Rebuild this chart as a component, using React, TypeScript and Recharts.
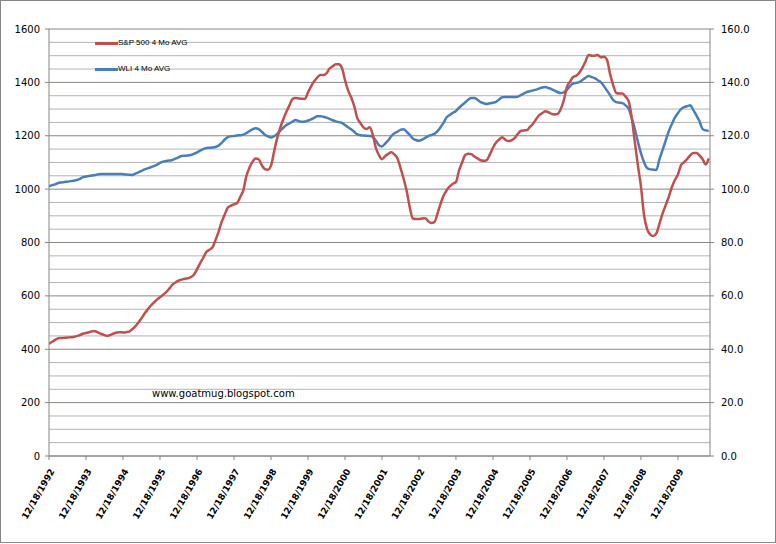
import { CartesianGrid, Line, LineChart, XAxis, YAxis } from "recharts";

// monthly points starting 12/1992
const sp500 = [
  420, 428, 435, 441, 442, 443, 444, 445, 446, 449, 453, 458,
  461, 464, 467, 467, 462, 457, 453, 450, 454, 459, 463, 464,
  463, 464, 466, 475, 486, 500, 516, 534, 549, 563, 575, 586,
  595, 604, 614, 627, 641, 650, 657, 661, 664, 666, 670, 679,
  699, 722, 742, 764, 773, 781, 809, 840, 877, 905, 931, 938,
  943, 948, 970, 994, 1048, 1080, 1102, 1115, 1112, 1090, 1075, 1073,
  1088, 1140, 1191, 1230, 1262, 1290, 1314, 1338, 1341, 1340, 1339, 1338,
  1362, 1385, 1404, 1418, 1428, 1428, 1434, 1452, 1460, 1468, 1468, 1455,
  1409, 1370, 1344, 1311, 1266, 1248, 1231, 1225, 1232, 1205, 1155, 1128,
  1112, 1123, 1132, 1138, 1130, 1116, 1080, 1040, 994, 933, 890, 888,
  888, 890, 891, 880, 873, 876, 908, 945, 976, 996, 1010, 1020,
  1027, 1070, 1100, 1128, 1133, 1131, 1122, 1115, 1108, 1106, 1109, 1130,
  1155, 1175, 1186, 1194, 1185, 1180, 1183, 1191, 1206, 1218, 1220, 1221,
  1233, 1245, 1262, 1277, 1285, 1292, 1288, 1282, 1280, 1282, 1300, 1334,
  1383, 1403, 1420, 1425, 1436, 1454, 1478, 1503, 1500, 1500, 1503, 1494,
  1496, 1484, 1431, 1390, 1360, 1358, 1358, 1347, 1330, 1270, 1178, 1090,
  1010, 903, 850, 830, 824, 834, 870, 908, 939, 970, 1006, 1034,
  1055, 1090, 1101, 1113, 1127, 1135, 1135, 1126, 1112, 1092, 1115,
];

const wli = [
  101.0, 101.5, 101.8, 102.3, 102.5, 102.7, 102.8, 103.0, 103.1, 103.4, 103.8, 104.5,
  104.7, 104.9, 105.1, 105.3, 105.6, 105.7, 105.7, 105.7, 105.7, 105.7, 105.7, 105.7,
  105.6, 105.5, 105.4, 105.3, 105.8, 106.3, 106.8, 107.4, 107.8, 108.2, 108.6, 109.1,
  109.8, 110.3, 110.5, 110.7, 110.9, 111.4, 111.9, 112.4, 112.5, 112.6, 112.8, 113.2,
  113.8, 114.4, 115.0, 115.4, 115.5, 115.6, 115.8, 116.3, 117.3, 118.6, 119.5, 119.8,
  119.9, 120.1, 120.2, 120.4, 121.0, 121.7, 122.4, 122.8, 122.5, 121.5, 120.4, 119.8,
  119.3, 119.8, 120.7, 121.8, 123.0, 124.0, 124.6, 125.3, 125.9, 125.5, 125.2, 125.3,
  125.7, 126.1, 126.7, 127.3, 127.3, 127.1, 126.8, 126.3, 125.8, 125.4, 125.1, 124.8,
  124.0, 123.2, 122.4, 121.5, 120.5, 120.2, 120.1, 120.0, 119.9, 119.6, 118.2, 116.5,
  116.0, 117.0, 118.2, 119.8, 120.9, 121.5, 122.2, 122.4, 121.5, 120.3, 119.0, 118.4,
  118.1, 118.5, 119.2, 119.9, 120.3, 120.7, 121.7, 123.2, 124.9, 126.9, 127.8, 128.6,
  129.3, 130.5, 131.5, 132.5, 133.5, 134.1, 134.1, 133.5, 132.6, 132.2, 131.9, 132.2,
  132.4, 132.7, 133.6, 134.4, 134.5, 134.5, 134.5, 134.5, 134.6, 135.2, 135.8, 136.4,
  136.7, 137.0, 137.3, 137.7, 138.1, 138.3, 137.9, 137.5, 136.9, 136.3, 136.0, 136.3,
  137.2, 138.6, 139.5, 139.8, 140.1, 140.9, 141.7, 142.4, 142.0, 141.6, 140.8, 140.1,
  138.6, 136.9, 135.2, 133.4, 132.6, 132.4, 132.2, 131.4, 130.2, 126.6, 122.6, 117.8,
  113.5, 110.1, 107.9, 107.4, 107.3, 107.2, 111.2, 114.6, 118.1, 121.6, 124.3, 126.8,
  128.5, 130.0, 130.7, 131.1, 131.4, 129.6, 127.6, 125.4, 122.5, 122.0, 121.8,
];

const yearLabels = [
  "12/18/1992", "12/18/1993", "12/18/1994", "12/18/1995", "12/18/1996",
  "12/18/1997", "12/18/1998", "12/18/1999", "12/18/2000", "12/18/2001",
  "12/18/2002", "12/18/2003", "12/18/2004", "12/18/2005", "12/18/2006",
  "12/18/2007", "12/18/2008", "12/18/2009",
];

const leftTicks = [0, 200, 400, 600, 800, 1000, 1200, 1400, 1600];
const rightTicks = [0, 20, 40, 60, 80, 100, 120, 140, 160];
const minorLines = [
  50, 100, 150, 250, 300, 350, 450, 500, 550, 650, 700, 750, 850, 900, 950,
  1050, 1100, 1150, 1250, 1300, 1350, 1450, 1500, 1550,
];

const data = sp500.map((v, i) => ({ m: i, sp: v, wli: wli[i] }));
const monthTicks = yearLabels.map((_, i) => i * 12);

const RED = "#c0504d";
const BLUE = "#4a7ebb";
const AXIS = "#868686";
const FONT = "DejaVu Sans";

const DateTick = (props: any) => {
  const { x, y, payload } = props;
  const label = yearLabels[Math.round(payload.value / 12)] ?? "";
  const tx = x + 6;
  const ty = y + 11;
  return (
    <text
      x={tx}
      y={ty}
      transform={`rotate(-60, ${tx}, ${ty})`}
      textAnchor="end"
      fontSize={9}
      fontWeight="bold"
      fontFamily={FONT}
      fill="#000"
    >
      {label}
    </text>
  );
};

export default function App() {
  return (
    <div
      style={{
        position: "absolute",
        left: 0,
        top: 0,
        width: 776,
        height: 544,
        background: "#fff",
      }}
    >
      <div
        style={{
          position: "absolute",
          left: 0,
          top: 0,
          width: 776,
          height: 543,
          boxSizing: "border-box",
          border: `1px solid ${AXIS}`,
        }}
      />
      <LineChart
        width={776}
        height={544}
        data={data}
        margin={{ top: 29, right: 16, bottom: 8, left: 0 }}
        style={{ position: "absolute", left: 0, top: 0 }}
      >
        <CartesianGrid
          yAxisId="left"
          vertical={false}
          horizontalValues={minorLines}
          stroke="#b4b4b4"
        />
        <CartesianGrid
          yAxisId="left"
          vertical={false}
          horizontalValues={leftTicks}
          stroke={AXIS}
        />
        <XAxis
          dataKey="m"
          type="number"
          domain={[0, 214.4]}
          ticks={monthTicks}
          allowDataOverflow
          height={80}
          tickSize={4}
          tickMargin={0}
          tick={<DateTick />}
          stroke={AXIS}
          interval={0}
        />
        <YAxis
          yAxisId="left"
          domain={[0, 1600]}
          ticks={leftTicks}
          width={49}
          tickSize={4}
          tickMargin={5}
          stroke={AXIS}
          tick={{ fill: "#000", fontSize: 10, fontFamily: FONT }}
          interval={0}
        />
        <YAxis
          yAxisId="right"
          orientation="right"
          domain={[0, 160]}
          ticks={rightTicks}
          width={50}
          tickSize={4}
          tickMargin={7}
          stroke={AXIS}
          tickFormatter={(v: number) => v.toFixed(1)}
          tick={{ fill: "#000", fontSize: 10, fontFamily: FONT }}
          interval={0}
        />
        <Line
          yAxisId="right"
          dataKey="wli"
          type="monotone"
          stroke={BLUE}
          strokeWidth={2.5}
          dot={false}
          isAnimationActive={false}
        />
        <Line
          yAxisId="left"
          dataKey="sp"
          type="monotone"
          stroke={RED}
          strokeWidth={2.5}
          dot={false}
          isAnimationActive={false}
        />
      </LineChart>
      {/* legend */}
      <div
        style={{
          position: "absolute",
          left: 95,
          top: 37,
          fontFamily: "Liberation Sans",
          fontSize: 8,
          lineHeight: "12px",
        }}
      >
        <div style={{ display: "flex", alignItems: "center", height: 12 }}>
          <span style={{ width: 23, height: 3, background: RED, display: "inline-block" }} />
          <span>S&amp;P 500 4 Mo AVG</span>
        </div>
        <div style={{ display: "flex", alignItems: "center", height: 12, marginTop: 14 }}>
          <span style={{ width: 23, height: 3, background: BLUE, display: "inline-block" }} />
          <span>WLI 4 Mo AVG</span>
        </div>
      </div>
      <div
        style={{
          position: "absolute",
          left: 152,
          top: 388,
          fontFamily: FONT,
          fontSize: 10,
          color: "#000",
        }}
      >
        www.goatmug.blogspot.com
      </div>
    </div>
  );
}
